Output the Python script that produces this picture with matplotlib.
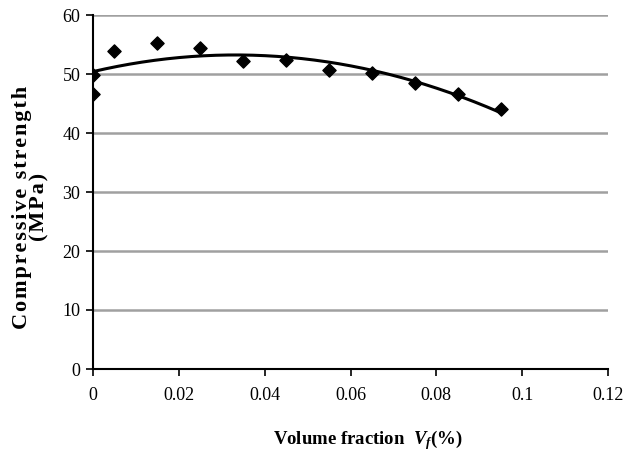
import numpy as np
import matplotlib
matplotlib.use("Agg")
import matplotlib.pyplot as plt

vf = [0.0, 0.0, 0.005, 0.015, 0.025, 0.035, 0.045, 0.055, 0.065, 0.075, 0.085, 0.095]
strength = [46.6, 49.8, 53.9, 55.3, 54.4, 52.2, 52.4, 50.7, 50.2, 48.5, 46.6, 44.1]
xticks = [0, 0.02, 0.04, 0.06, 0.08, 0.1, 0.12]
xtick_labels = ["0", "0.02", "0.04", "0.06", "0.08", "0.1", "0.12"]
yticks = [0, 10, 20, 30, 40, 50, 60]

plt.rcParams['font.family'] = ['Liberation Serif']
plt.rcParams['mathtext.fontset'] = 'custom'
plt.rcParams['mathtext.it'] = 'Liberation Serif:italic:bold'
plt.rcParams['mathtext.rm'] = 'Liberation Serif:bold'

fig = plt.figure(figsize=(6.26, 4.63), dpi=100)
ax = fig.add_axes([93/626, 1-369/463, (608-93)/626, (369-15)/463])

coef = np.polyfit(vf, strength, 2)
xs = np.linspace(min(vf), max(vf), 200)
ax.plot(xs, np.polyval(coef, xs), color='black', lw=2.2, zorder=3)
ax.scatter(vf, strength, marker='D', s=45, color='black', zorder=4)

ax.set_xlim(0, 0.12)
ax.set_ylim(0, 60)
ax.set_xticks(xticks)
ax.set_xticklabels(xtick_labels)
ax.set_yticks(yticks)
ax.yaxis.grid(True, color='#a0a0a0', lw=1.8)
ax.set_axisbelow(True)
for s in ['top', 'right']:
    ax.spines[s].set_visible(False)
ax.spines['left'].set_linewidth(1.5)
ax.spines['bottom'].set_linewidth(1.5)
ax.tick_params(axis='both', direction='out', length=5, width=1.2, labelsize=13, pad=8)
ax.tick_params(axis='y', pad=4)

fig.text(368/626, 1-440/463, r'Volume fraction  $V_f$(%)', ha='center', va='center',
         fontsize=13.5, fontweight='bold')

def spaced(s):
    return '\u200a'.join(s)

fig.text(31/626, 1-207/463, spaced('Compressive strength') + '\n' + spaced('(MPa)'),
         ha='center', va='center', rotation=90,
         fontsize=16, fontweight='bold', linespacing=0.85)

fig.savefig('out.png', dpi=100)
